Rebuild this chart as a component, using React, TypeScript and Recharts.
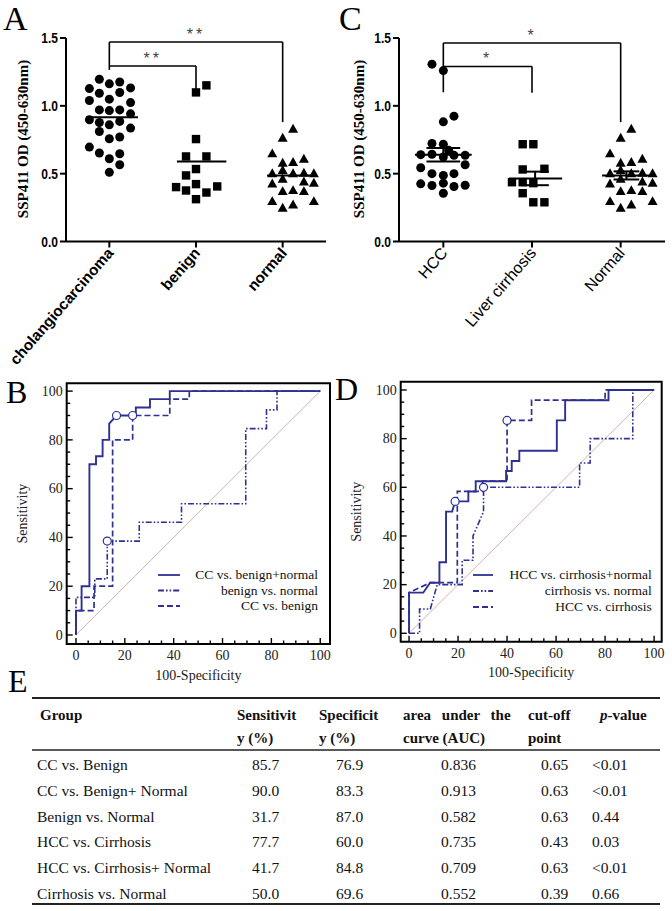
import React from 'react';
import {
  ScatterChart,
  Scatter,
  XAxis,
  YAxis,
  ReferenceLine,
  ReferenceArea,
  ComposedChart,
  Line,
} from 'recharts';

const SERIF = "'Liberation Serif','Times New Roman',serif";
const SANS = "'Liberation Sans',Arial,sans-serif";
const BLUE = '#2e3192';
const DIAG = '#d6a7a4';

// ---------------- Panel A (dot plot) ----------------
const groupsA = ['cholangiocarcinoma', 'benign', 'normal'];
const ccJitter = [-0.115, 0, 0.12, -0.23, 0.245, -0.115, 0.12, -0.23, 0, 0.245, -0.115, 0, 0.12, 0.245, -0.23, -0.115, 0, 0.12, 0.245, -0.115, 0, 0.12, -0.23, -0.115, 0, 0.12, 0.12, 0];
const ccOD = [1.196, 1.162, 1.176, 1.127, 1.132, 1.093, 1.098, 1.039, 1.049, 1.024, 0.97, 0.965, 0.97, 0.941, 0.897, 0.877, 0.86, 0.885, 0.836, 0.811, 0.757, 0.77, 0.696, 0.652, 0.61, 0.647, 0.566, 0.51];
const benignJitter = [0, 0.12, 0, -0.115, 0.12, 0, -0.115, -0.23, -0.115, 0, 0.12, 0.245, 0];
const benignOD = [1.099, 1.151, 0.755, 0.627, 0.627, 0.534, 0.487, 0.401, 0.376, 0.423, 0.361, 0.406, 0.312];
const normalJitter = [0.12, 0, -0.12, 0, 0.12, 0.245, -0.12, 0, 0.12, 0.245, 0, -0.12, 0.245, 0.36, 0.36, 0, 0.12, 0.245, -0.12, 0, 0.12, 0.36];
const normalOD = [0.828, 0.762, 0.647, 0.578, 0.583, 0.607, 0.5, 0.524, 0.5, 0.504, 0.46, 0.425, 0.44, 0.43, 0.5, 0.369, 0.376, 0.369, 0.295, 0.246, 0.27, 0.295];
const meansA = [0.915, 0.59, 0.487];
const meanSpansA = [[-0.27, 0.33], [-0.22, 0.35], [-0.18, 0.33]];
const bracketsA = [
  { from: 1, to: 3, y: 1.47, fromEnd: 1.265, toEnd: 0.88, label: '**' },
  { from: 1, to: 2, y: 1.294, fromEnd: 1.294, toEnd: 1.096, label: '**' },
];

// ---------------- Panel C (dot plot) ----------------
const groupsC = ['HCC', 'Liver cirrhosis', 'Normal'];
const hccJitter = [-0.128, 0, 0, 0.12, -0.128, 0, -0.255, -0.128, 0, 0.12, 0.246, 0.06, -0.255, -0.128, 0, 0.12, 0.246, -0.255, -0.128, 0, 0.12, 0.246, 0];
const hccOD = [1.307, 1.26, 0.882, 0.924, 0.722, 0.717, 0.64, 0.643, 0.623, 0.635, 0.635, 0.672, 0.544, 0.5, 0.487, 0.5, 0.566, 0.425, 0.413, 0.43, 0.405, 0.415, 0.356];
const cirrJitter = [-0.105, 0.015, -0.105, 0.14, -0.226, -0.105, 0.015, -0.105, 0.015, 0.14];
const cirrOD = [0.717, 0.717, 0.531, 0.536, 0.437, 0.437, 0.43, 0.356, 0.289, 0.289];
const meansC = [0.64, 0.465, 0.487];
const semC = [0.05, 0.05, 0.03];
const meanSpansC = [[-0.32, 0.32], [-0.26, 0.34], [-0.21, 0.34]];
const semSpansC = [[-0.19, 0.19], [-0.12, 0.19], [-0.08, 0.21]];
const bracketsC = [
  { from: 1, to: 3, y: 1.463, fromEnd: 1.1, toEnd: 0.88, label: '*' },
  { from: 1, to: 2, y: 1.29, fromEnd: 1.29, toEnd: 1.096, label: '*' },
];

const odTicks = [0, 0.5, 1.0, 1.5];

// ---------------- Panel B (ROC) ----------------
const rocTicks = [0, 5, 10, 15, 20, 25, 30, 35, 40, 45, 50, 55, 60, 65, 70, 75, 80, 85, 90, 95, 100];
const bCcBnX = [0, 0, 2.3, 2.3, 5.5, 5.5, 8.2, 8.2, 10.9, 10.9, 13.6, 13.6, 16.6, 24.5, 24.5, 30.3, 30.3, 38.4, 38.4, 100];
const bCcBnY = [0, 10, 10, 20, 20, 70, 70, 73.3, 73.3, 80, 80, 86.7, 90, 90, 93.3, 93.3, 96.7, 96.7, 100, 100];
const bBnX = [0, 0, 7.7, 7.7, 12.8, 12.8, 25.9, 25.9, 43.2, 43.2, 69.5, 69.5, 78, 78, 82.3, 82.3, 100];
const bBnY = [0, 15.4, 15.4, 23, 23, 38.5, 38.5, 46.2, 46.2, 53.8, 53.8, 84.6, 84.6, 92.3, 92.3, 100, 100];
const bCcBX = [0, 0, 7.4, 7.4, 15, 15, 23.2, 23.2, 38.4, 38.4, 46.4, 46.4, 100];
const bCcBY = [0, 10, 10, 20, 20, 80, 80, 90, 90, 96.7, 96.7, 100, 100];
const bCutX = [16.6, 23.2, 12.8];
const bCutY = [90, 90, 38.5];
const legendB = ['CC vs. benign+normal', 'benign vs. normal', 'CC vs. benign'];

// ---------------- Panel D (ROC) ----------------
const dHcnX = [0, 0, 5.8, 8.6, 12.4, 12.4, 15.1, 15.1, 17.6, 18.8, 24.2, 24.2, 27.2, 27.2, 39.6, 39.6, 41.9, 41.9, 45, 45, 60.3, 60.3, 63.7, 63.7, 81.4, 81.4, 100];
const dHcnY = [0, 16.7, 16.7, 20.8, 20.8, 29.2, 29.2, 50, 50, 54.2, 54.2, 58.3, 58.3, 62.5, 62.5, 66.7, 66.7, 70.8, 70.8, 75, 75, 87.5, 87.5, 95.8, 95.8, 100, 100];
const dCnX = [0, 4.3, 4.3, 8.7, 11.5, 21.7, 21.7, 26.1, 26.1, 30.4, 30.4, 69.6, 69.6, 73.9, 73.9, 91.3, 91.3, 100];
const dCnY = [0, 0, 10, 10, 20, 20, 30, 30, 40, 50, 60, 60, 70, 70, 80, 80, 100, 100];
const dHcX = [0, 0, 8.6, 19.7, 19.7, 30, 30, 40, 40, 50, 50, 80, 80, 100];
const dHcY = [0, 16.7, 20.8, 20.8, 58.3, 58.3, 62.5, 62.5, 87.5, 87.5, 95.8, 95.8, 100, 100];
const dCutX = [18.8, 30.4, 40];
const dCutY = [54.2, 60, 87.5];
const legendD = ['HCC vs. cirrhosis+normal', 'cirrhosis vs. normal', 'HCC vs. cirrhosis'];

// ---------------- Panel E (table) ----------------
const tableGroups = ['CC vs. Benign', 'CC vs. Benign+ Normal', 'Benign vs. Normal', 'HCC vs. Cirrhosis', 'HCC vs. Cirrhosis+ Normal', 'Cirrhosis vs. Normal'];
const tableSens = ['85.7', '90.0', '31.7', '77.7', '41.7', '50.0'];
const tableSpec = ['76.9', '83.3', '87.0', '60.0', '84.8', '69.6'];
const tableAUC = ['0.836', '0.913', '0.582', '0.735', '0.709', '0.552'];
const tableCutoff = ['0.65', '0.63', '0.63', '0.43', '0.63', '0.39'];
const tableP = ['<0.01', '<0.01', '0.44', '0.03', '<0.01', '0.66'];

// ---------------- helpers ----------------
const toPoints = (cat: number, jit: number[], vals: number[]) => vals.map((v, i) => ({ x: cat + jit[i], y: v }));
const toXY = (xs: number[], ys: number[]) => xs.map((x, i) => ({ x, y: ys[i] }));

const DASH = { solid: undefined, dashdot: '6 2 1.6 2 1.6 2', dashed: '6 3' } as any;

const CircleShape = (p: any) => <circle cx={p.cx} cy={p.cy} r={4.5} fill="#000" />;
const SquareShape = (p: any) => <rect x={p.cx - 4.2} y={p.cy - 4.2} width={8.4} height={8.4} fill="#000" />;
const TriangleShape = (p: any) => (
  <path d={`M${p.cx},${p.cy - 5.3} L${p.cx + 5},${p.cy + 3.6} L${p.cx - 5},${p.cy + 3.6} Z`} fill="#000" />
);
const OpenCircle = (p: any) => <circle cx={p.cx} cy={p.cy} r={4} fill="#fff" stroke={BLUE} strokeWidth={1.2} />;

const CatTick = (props: any) => {
  const { x, y, payload, labels, bold } = props;
  const label = labels[Math.round(payload.value) - 1];
  return (
    <g>
      <line x1={x} x2={x} y1={y} y2={y + 6} stroke="#000" strokeWidth={2} />
      <text
        transform={`translate(${x + 5},${y + 12}) rotate(-49)`}
        textAnchor="end"
        fontFamily={SANS}
        fontWeight={bold ? 700 : 400}
        fontSize={bold ? 15.3 : 16}
        fill="#000"
      >
        {label}
      </text>
    </g>
  );
};

const OdTick = (p: any) => (
  <text
    transform={`translate(${p.x},${p.y}) scale(0.8,1)`}
    textAnchor="end"
    dy="0.36em"
    fontFamily={SANS}
    fontWeight={700}
    fontSize={15}
    fill="#000"
  >
    {Number(p.payload.value).toFixed(1)}
  </text>
);

function DotPanel(props: any) {
  const { groups, labels, bold, means, meanSpans, sem, semSpans, brackets, yAxisWidth, right } = props;
  const sigPoints = brackets.map((b: any) => ({ x: (b.from + b.to) / 2, y: b.y, label: b.label }));
  return (
    <ScatterChart width={336} height={395} margin={{ top: 38, right, bottom: 0, left: 0 }}>
      <XAxis
        type="number"
        dataKey="x"
        domain={[0.5, 3.5]}
        ticks={[1, 2, 3]}
        interval={0}
        height={153.5}
        tickSize={0}
        tickMargin={0}
        tickLine={false}
        axisLine={{ stroke: '#000', strokeWidth: 2 }}
        tick={(p: any) => <CatTick {...p} labels={labels} bold={bold} />}
      />
      <YAxis
        type="number"
        dataKey="y"
        domain={[0, 1.5]}
        ticks={odTicks}
        interval={0}
        width={yAxisWidth}
        tickSize={6}
        tickMargin={2}
        axisLine={{ stroke: '#000', strokeWidth: 2 }}
        tickLine={{ stroke: '#000', strokeWidth: 2 }}
        tick={(p: any) => <OdTick {...p} />}
        label={() => (
          <text
            transform={`translate(23,139) rotate(-90)`}
            textAnchor="middle"
            dominantBaseline="central"
            fontFamily={SERIF}
            fontWeight={700}
            fontSize={15}
            fill="#000"
          >
            SSP411 OD (450-630nm)
          </text>
        )}
      />
      {groups.map((g: any, i: number) => (
        <Scatter key={'g' + i} data={g.points} shape={g.shape} isAnimationActive={false} />
      ))}
      {means.map((m: number, i: number) => (
        <ReferenceLine
          key={'m' + i}
          segment={[{ x: i + 1 + meanSpans[i][0], y: m }, { x: i + 1 + meanSpans[i][1], y: m }]}
          stroke="#000"
          strokeWidth={2}
        />
      ))}
      {sem &&
        sem.map((s: number, i: number) => {
          const c = i + 1 + (semSpans[i][0] + semSpans[i][1]) / 2;
          return (
            <React.Fragment key={'s' + i}>
              <ReferenceLine segment={[{ x: i + 1 + semSpans[i][0], y: means[i] + s }, { x: i + 1 + semSpans[i][1], y: means[i] + s }]} stroke="#000" strokeWidth={2} />
              <ReferenceLine segment={[{ x: i + 1 + semSpans[i][0], y: means[i] - s }, { x: i + 1 + semSpans[i][1], y: means[i] - s }]} stroke="#000" strokeWidth={2} />
              <ReferenceLine segment={[{ x: c, y: means[i] - s }, { x: c, y: means[i] + s }]} stroke="#000" strokeWidth={2} />
            </React.Fragment>
          );
        })}
      {brackets.map((b: any, i: number) => (
        <React.Fragment key={'b' + i}>
          <ReferenceLine segment={[{ x: b.from, y: b.y }, { x: b.to, y: b.y }]} stroke="#000" strokeWidth={1.6} />
          <ReferenceLine segment={[{ x: b.from, y: b.fromEnd }, { x: b.from, y: b.y }]} stroke="#000" strokeWidth={1.6} />
          <ReferenceLine segment={[{ x: b.to, y: b.toEnd }, { x: b.to, y: b.y }]} stroke="#000" strokeWidth={1.6} />
        </React.Fragment>
      ))}
      <Scatter
        data={sigPoints}
        isAnimationActive={false}
        shape={(p: any) => (
          <text x={p.cx} y={p.cy - 2} textAnchor="middle" fontFamily={SANS} fontSize={16} letterSpacing={3} fill="#444">
            {p.payload.label}
          </text>
        )}
      />
    </ScatterChart>
  );
}

const RocXTick = (p: any) => {
  const { x, y, payload } = p;
  const major = payload.value % 20 === 0;
  return (
    <g>
      <line x1={x} x2={x} y1={y} y2={y - (major ? 6 : 3.5)} stroke="#000" strokeWidth={1.4} />
      {major && (
        <text x={x} y={y + 16} textAnchor="middle" fontFamily={SERIF} fontSize={14} fill="#222">
          {payload.value}
        </text>
      )}
    </g>
  );
};

const RocYTick = (p: any) => {
  const { x, y, payload } = p;
  const major = payload.value % 20 === 0;
  return (
    <g>
      <line x1={x} x2={x + (major ? 6 : 3.5)} y1={y} y2={y} stroke="#000" strokeWidth={1.4} />
      {major && (
        <text x={x - 4} y={y} dy="0.34em" textAnchor="end" fontFamily={SERIF} fontSize={14} fill="#222">
          {payload.value}
        </text>
      )}
    </g>
  );
};

function RocPanel(props: any) {
  const { curves, cutoffs, xDomain, yDomain, width, height, top, right, yAxisWidth, xAxisHeight } = props;
  const plotH = height - top - xAxisHeight;
  return (
    <ComposedChart width={width} height={height} margin={{ top, right, bottom: 0, left: 0 }}>
      <XAxis
        type="number"
        dataKey="x"
        domain={xDomain}
        allowDataOverflow
        ticks={rocTicks}
        interval={0}
        height={xAxisHeight}
        tickSize={0}
        tickMargin={0}
        axisLine={false}
        tickLine={false}
        tick={(p: any) => <RocXTick {...p} />}
        label={() => (
          <text
            x={yAxisWidth + (width - yAxisWidth - right) / 2}
            y={top + plotH + 31}
            textAnchor="middle"
            dominantBaseline="central"
            fontFamily={SERIF}
            fontSize={14}
            fill="#222"
          >
            100-Specificity
          </text>
        )}
      />
      <YAxis
        type="number"
        dataKey="y"
        domain={yDomain}
        allowDataOverflow
        ticks={rocTicks}
        interval={0}
        width={yAxisWidth}
        tickSize={0}
        tickMargin={0}
        axisLine={false}
        tickLine={false}
        tick={(p: any) => <RocYTick {...p} />}
        label={() => (
          <text
            transform={`translate(22,${top + plotH / 2}) rotate(-90)`}
            textAnchor="middle"
            dominantBaseline="central"
            fontFamily={SERIF}
            fontSize={14}
            fill="#222"
          >
            Sensitivity
          </text>
        )}
      />
      <ReferenceLine segment={[{ x: 0, y: 0 }, { x: 100, y: 100 }]} stroke={DIAG} strokeWidth={0.9} />
      {curves.map((c: any) => (
        <Line
          key={c.name}
          name={c.name}
          data={c.data}
          dataKey="y"
          type="linear"
          stroke={BLUE}
          strokeWidth={c.width}
          strokeDasharray={c.dash}
          dot={false}
          activeDot={false}
          isAnimationActive={false}
        />
      ))}
      <Scatter data={cutoffs} shape={OpenCircle} isAnimationActive={false} />
      <ReferenceArea
        x1={xDomain[0]}
        x2={xDomain[1]}
        y1={yDomain[0]}
        y2={yDomain[1]}
        fill="none"
        fillOpacity={0}
        stroke="#000"
        strokeWidth={2}
      />
    </ComposedChart>
  );
}

function LegendRows(props: any) {
  const { names, styles, sx1, sx2, tx, ys } = props;
  return (
    <g>
      {names.map((n: string, i: number) => (
        <g key={n}>
          <line x1={sx1} x2={sx2} y1={ys[i]} y2={ys[i]} stroke={BLUE} strokeWidth={1.8} strokeDasharray={DASH[styles[i]]} />
          <text x={tx} y={ys[i]} dy="0.33em" textAnchor="end" fontFamily={SERIF} fontSize={13.5} fill="#111">
            {n}
          </text>
        </g>
      ))}
    </g>
  );
}

export default function App() {
  const groupsDataA = [
    { points: toPoints(1, ccJitter, ccOD), shape: CircleShape },
    { points: toPoints(2, benignJitter, benignOD), shape: SquareShape },
    { points: toPoints(3, normalJitter, normalOD), shape: TriangleShape },
  ];
  const groupsDataC = [
    { points: toPoints(1, hccJitter, hccOD), shape: CircleShape },
    { points: toPoints(2, cirrJitter, cirrOD), shape: SquareShape },
    { points: toPoints(3, normalJitter, normalOD), shape: TriangleShape },
  ];
  const curvesB = [
    { name: legendB[0], data: toXY(bCcBnX, bCcBnY), width: 1.9, dash: DASH.solid },
    { name: legendB[1], data: toXY(bBnX, bBnY), width: 1.6, dash: DASH.dashdot },
    { name: legendB[2], data: toXY(bCcBX, bCcBY), width: 1.7, dash: DASH.dashed },
  ];
  const curvesD = [
    { name: legendD[0], data: toXY(dHcnX, dHcnY), width: 1.9, dash: DASH.solid },
    { name: legendD[1], data: toXY(dCnX, dCnY), width: 1.6, dash: DASH.dashdot },
    { name: legendD[2], data: toXY(dHcX, dHcY), width: 1.7, dash: DASH.dashed },
  ];
  const legendStyles = ['solid', 'dashdot', 'dashed'];

  const hdrX = [40, 237, 319, 403, 528, 600];
  const colX = [37, 252, 336, 441, 541, 592];
  const rowY0 = 770;
  const rowStep = 25.8;

  return (
    <div style={{ position: 'absolute', left: 0, top: 0, width: 672, height: 911, background: '#fff', overflow: 'hidden' }}>
      <div style={{ position: 'absolute', left: 0, top: 0 }}>
        <DotPanel groups={groupsDataA} labels={groupsA} bold means={meansA} meanSpans={meanSpansA} brackets={bracketsA} yAxisWidth={66} right={10} />
      </div>
      <div style={{ position: 'absolute', left: 336, top: 0 }}>
        <DotPanel groups={groupsDataC} labels={groupsC} bold={false} means={meansC} meanSpans={meanSpansC} sem={semC} semSpans={semSpansC} brackets={bracketsC} yAxisWidth={63} right={7} />
      </div>
      <div style={{ position: 'absolute', left: 0, top: 370 }}>
        <RocPanel
          curves={curvesB}
          cutoffs={toXY(bCutX, bCutY)}
          xDomain={[-3.8, 104]}
          yDomain={[-3.7, 103.2]}
          width={340}
          height={320}
          top={13.3}
          right={10}
          yAxisWidth={66.7}
          xAxisHeight={46}
        />
      </div>
      <div style={{ position: 'absolute', left: 334, top: 370 }}>
        <RocPanel
          curves={curvesD}
          cutoffs={toXY(dCutX, dCutY)}
          xDomain={[-3.4, 103.1]}
          yDomain={[-3.45, 103.4]}
          width={338}
          height={320}
          top={11.7}
          right={10.3}
          yAxisWidth={66.7}
          xAxisHeight={48.3}
        />
      </div>
      <svg width={672} height={911} style={{ position: 'absolute', left: 0, top: 0, pointerEvents: 'none' }}>
        <text x={3} y={30} fontFamily={SERIF} fontSize={34} fill="#000">A</text>
        <text x={339} y={30} fontFamily={SERIF} fontSize={34} fill="#000">C</text>
        <text x={6} y={403} fontFamily={SERIF} fontSize={32} fill="#000">B</text>
        <text x={335} y={400} fontFamily={SERIF} fontSize={32} fill="#000">D</text>
        <text x={8} y={692} fontFamily={SERIF} fontSize={32} fill="#000">E</text>

        <LegendRows names={legendB} styles={legendStyles} sx1={158} sx2={180} tx={318} ys={[575, 590.5, 606]} />
        <LegendRows names={legendD} styles={legendStyles} sx1={473} sx2={493} tx={651.7} ys={[575, 591, 607]} />

        <line x1={32} x2={660} y1={698} y2={698} stroke="#222" strokeWidth={1.8} />
        <line x1={32} x2={660} y1={750} y2={750} stroke="#222" strokeWidth={1.5} />
        <line x1={32} x2={660} y1={904} y2={904} stroke="#222" strokeWidth={1.8} />
        <g fontFamily={SERIF} fontWeight={700} fontSize={15} fill="#111">
          <text x={hdrX[0]} y={720}>Group</text>
          <text x={hdrX[1]} y={720}>Sensitivit</text>
          <text x={hdrX[2]} y={720}>Specificit</text>
          <text x={hdrX[3]} y={720} wordSpacing={7}>area under the</text>
          <text x={hdrX[4]} y={720}>cut-off</text>
          <text x={hdrX[5]} y={720}><tspan fontStyle="italic">p</tspan>-value</text>
          <text x={hdrX[1]} y={743}>y (%)</text>
          <text x={hdrX[2]} y={743}>y (%)</text>
          <text x={hdrX[3]} y={743}>curve (AUC)</text>
          <text x={hdrX[4]} y={743}>point</text>
        </g>
        <g fontFamily={SERIF} fontSize={15.5} fill="#111">
          {tableGroups.map((g, i) => (
            <g key={g}>
              <text x={colX[0]} y={rowY0 + i * rowStep}>{g}</text>
              <text x={colX[1]} y={rowY0 + i * rowStep}>{tableSens[i]}</text>
              <text x={colX[2]} y={rowY0 + i * rowStep}>{tableSpec[i]}</text>
              <text x={colX[3]} y={rowY0 + i * rowStep}>{tableAUC[i]}</text>
              <text x={colX[4]} y={rowY0 + i * rowStep}>{tableCutoff[i]}</text>
              <text x={colX[5]} y={rowY0 + i * rowStep}>{tableP[i]}</text>
            </g>
          ))}
        </g>
      </svg>
    </div>
  );
}
